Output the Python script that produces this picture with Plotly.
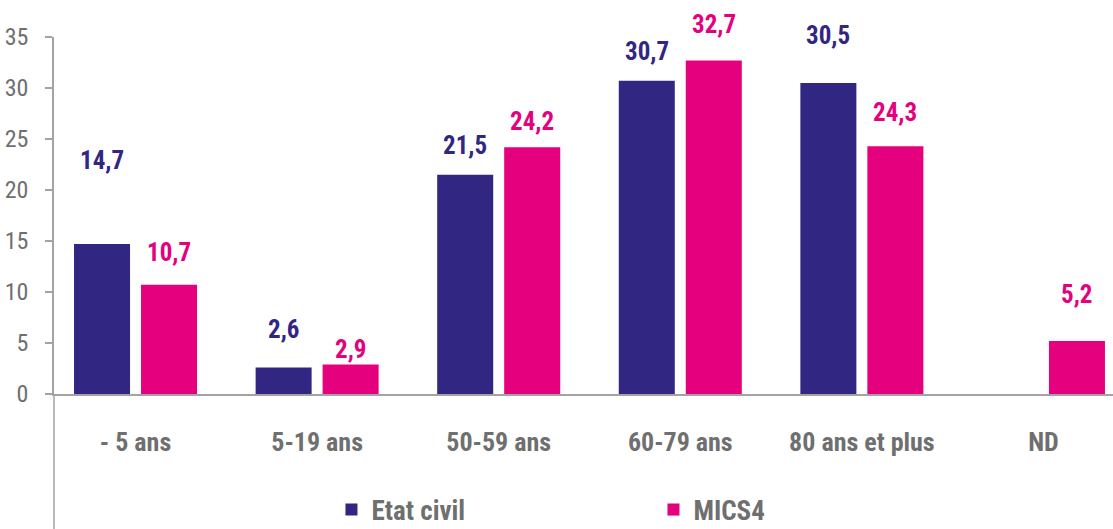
import plotly.graph_objects as go

# Age groups and the two sources
categories = ["- 5 ans", "5-19 ans", "50-59 ans", "60-79 ans", "80 ans et plus", "ND"]
etat_civil = [14.7, 2.6, 21.5, 30.7, 30.5, None]
mics4 = [10.7, 2.9, 24.2, 32.7, 24.3, 5.2]
y_ticks = [0, 5, 10, 15, 20, 25, 30, 35]

BLUE = "#312783"
MAGENTA = "#e5007e"
GREY_TEXT = "#6f6f6f"
AXIS_GREY = "#a3a3a3"
FONT = "Roboto Condensed, Liberation Sans Narrow, Roboto, sans-serif"

# vertical distance (px) between each bar top and the centre of its value label
blue_label_shift = [84, 38, 29, 29, 47, 0]
magenta_label_shift = [32, 15, 26, 36, 34, 46]


def fmt(v):
    return f"{v:.1f}".replace(".", ",")


fig = go.Figure()
fig.add_trace(go.Bar(name="Etat civil", x=categories, y=etat_civil,
                     marker=dict(color=BLUE, line=dict(width=0))))
fig.add_trace(go.Bar(name="MICS4", x=categories, y=mics4,
                     marker=dict(color=MAGENTA, line=dict(width=0))))

# value labels above the bars
annotations = []
for i, v in enumerate(etat_civil):
    if v is None:
        continue
    annotations.append(dict(x=i, y=v, xref="x", yref="y", text=f"<b>{fmt(v)}</b>",
                            showarrow=False, xshift=-33.5, yshift=blue_label_shift[i],
                            yanchor="middle",
                            font=dict(family=FONT, size=25, color=BLUE)))
for i, v in enumerate(mics4):
    annotations.append(dict(x=i, y=v, xref="x", yref="y", text=f"<b>{fmt(v)}</b>",
                            showarrow=False, xshift=33.5, yshift=magenta_label_shift[i],
                            yanchor="middle",
                            font=dict(family=FONT, size=25, color=MAGENTA)))

fig.update_layout(
    width=1113, height=529,
    margin=dict(l=54, r=0, t=37, b=135, pad=0, autoexpand=False),
    paper_bgcolor="white", plot_bgcolor="white",
    barmode="group", bargap=0.262, bargroupgap=0.164,
    font=dict(family=FONT, color=GREY_TEXT),
    annotations=annotations,
    showlegend=True,
    legend=dict(orientation="h", x=0.262, xanchor="left", y=-0.325, yanchor="middle",
                entrywidth=277, entrywidthmode="pixels",
                font=dict(family=FONT, size=27, color=GREY_TEXT, weight="bold"),
                bgcolor="rgba(0,0,0,0)"),
    shapes=[
        # y axis line continuing below the category labels
        dict(type="line", xref="paper", yref="paper", x0=0, x1=0, y0=0, y1=-1.0,
             line=dict(color=AXIS_GREY, width=1.5), layer="below"),
    ],
)

fig.update_xaxes(
    type="category", range=[-0.449, 5.383],
    showline=True, linecolor=AXIS_GREY, linewidth=1.5,
    ticks="", showgrid=False, zeroline=False,
    tickfont=dict(family=FONT, size=26, color=GREY_TEXT, weight="bold"),
    ticklabelstandoff=24,
)
fig.update_yaxes(
    range=[0, 35], tickvals=y_ticks, ticktext=[str(t) for t in y_ticks],
    showline=True, linecolor=AXIS_GREY, linewidth=1.5,
    ticks="outside", ticklen=7, tickwidth=1.5, tickcolor=AXIS_GREY,
    showgrid=False, zeroline=False,
    tickfont=dict(family=FONT, size=24, color=GREY_TEXT),
    ticklabelstandoff=12,
)

fig.write_html("out.html")
